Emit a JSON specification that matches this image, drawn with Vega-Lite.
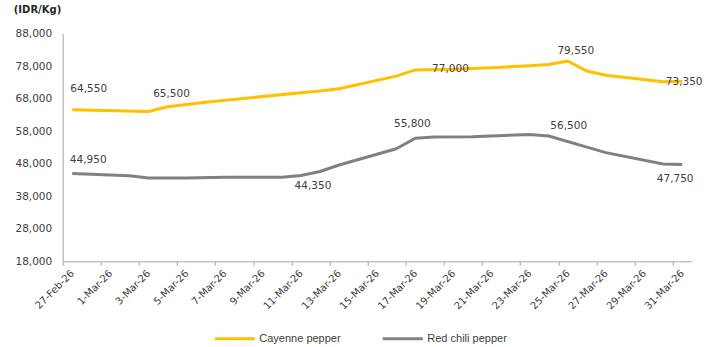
{
  "$schema": "https://vega.github.io/schema/vega-lite/v6.json",
  "width": 629,
  "height": 227.8,
  "autosize": {"type": "none"},
  "padding": {"left": 62.7, "top": 33.5, "right": 15.3, "bottom": 85.7},
  "background": "white",
  "config": {"view": {"stroke": null}, "font": "DejaVu Sans"},
  "datasets": {
    "prices": [
      {"date": "2026-02-27", "series": "Cayenne pepper", "price": 64550},
      {"date": "2026-03-03", "series": "Cayenne pepper", "price": 64050},
      {"date": "2026-03-04", "series": "Cayenne pepper", "price": 65500},
      {"date": "2026-03-06", "series": "Cayenne pepper", "price": 66900},
      {"date": "2026-03-11", "series": "Cayenne pepper", "price": 69800},
      {"date": "2026-03-12", "series": "Cayenne pepper", "price": 70300},
      {"date": "2026-03-13", "series": "Cayenne pepper", "price": 71000},
      {"date": "2026-03-16", "series": "Cayenne pepper", "price": 74900},
      {"date": "2026-03-17", "series": "Cayenne pepper", "price": 76800},
      {"date": "2026-03-19", "series": "Cayenne pepper", "price": 77000},
      {"date": "2026-03-21", "series": "Cayenne pepper", "price": 77500},
      {"date": "2026-03-23", "series": "Cayenne pepper", "price": 78100},
      {"date": "2026-03-24", "series": "Cayenne pepper", "price": 78500},
      {"date": "2026-03-25", "series": "Cayenne pepper", "price": 79550},
      {"date": "2026-03-26", "series": "Cayenne pepper", "price": 76450},
      {"date": "2026-03-27", "series": "Cayenne pepper", "price": 75150},
      {"date": "2026-03-30", "series": "Cayenne pepper", "price": 73200},
      {"date": "2026-03-31", "series": "Cayenne pepper", "price": 73350},
      {"date": "2026-02-27", "series": "Red chili pepper", "price": 44950},
      {"date": "2026-03-02", "series": "Red chili pepper", "price": 44300},
      {"date": "2026-03-03", "series": "Red chili pepper", "price": 43600},
      {"date": "2026-03-05", "series": "Red chili pepper", "price": 43600},
      {"date": "2026-03-07", "series": "Red chili pepper", "price": 43800},
      {"date": "2026-03-10", "series": "Red chili pepper", "price": 43800},
      {"date": "2026-03-11", "series": "Red chili pepper", "price": 44350},
      {"date": "2026-03-12", "series": "Red chili pepper", "price": 45600},
      {"date": "2026-03-13", "series": "Red chili pepper", "price": 47600},
      {"date": "2026-03-16", "series": "Red chili pepper", "price": 52600},
      {"date": "2026-03-17", "series": "Red chili pepper", "price": 55800},
      {"date": "2026-03-18", "series": "Red chili pepper", "price": 56200},
      {"date": "2026-03-20", "series": "Red chili pepper", "price": 56300},
      {"date": "2026-03-23", "series": "Red chili pepper", "price": 57000},
      {"date": "2026-03-24", "series": "Red chili pepper", "price": 56500},
      {"date": "2026-03-26", "series": "Red chili pepper", "price": 53100},
      {"date": "2026-03-27", "series": "Red chili pepper", "price": 51400},
      {"date": "2026-03-30", "series": "Red chili pepper", "price": 47900},
      {"date": "2026-03-31", "series": "Red chili pepper", "price": 47750}
    ],
    "labels": [
      {"date": "2026-02-27", "series": "Cayenne pepper", "price": 64550, "label": "64,550"},
      {"date": "2026-03-04", "series": "Cayenne pepper", "price": 65500, "label": "65,500"},
      {"date": "2026-03-19", "series": "Cayenne pepper", "price": 77000, "label": "77,000"},
      {"date": "2026-03-25", "series": "Cayenne pepper", "price": 79550, "label": "79,550"},
      {"date": "2026-03-31", "series": "Cayenne pepper", "price": 73350, "label": "73,350"},
      {"date": "2026-02-27", "series": "Red chili pepper", "price": 44950, "label": "44,950"},
      {"date": "2026-03-11", "series": "Red chili pepper", "price": 44350, "label": "44,350"},
      {"date": "2026-03-17", "series": "Red chili pepper", "price": 55800, "label": "55,800"},
      {"date": "2026-03-24", "series": "Red chili pepper", "price": 56500, "label": "56,500"},
      {"date": "2026-03-31", "series": "Red chili pepper", "price": 47750, "label": "47,750"}
    ]
  },
  "encoding": {
    "x": {
      "field": "date",
      "type": "temporal",
      "scale": {
        "type": "utc",
        "domain": [
          {"year": 2026, "month": 2, "date": 26, "hours": 12, "utc": true},
          {"year": 2026, "month": 3, "date": 31, "hours": 12, "utc": true}
        ]
      },
      "axis": {
        "title": null,
        "format": "%-d-%b-%y",
        "tickCount": {"interval": "day", "step": 2},
        "labelAngle": -45,
        "labelAlign": "right",
        "labelBaseline": "middle",
        "labelPadding": 6,
        "tickOffset": -9.53,
        "labelOffset": 9.53,
        "tickSize": 4,
        "tickColor": "#A6A6A6",
        "domainColor": "#A6A6A6",
        "grid": false,
        "labelFont": "DejaVu Sans",
        "labelFontSize": 10,
        "labelColor": "#404040",
        "labelFlush": false,
        "labelOverlap": false,
        "labelBound": false
      }
    },
    "y": {
      "field": "price",
      "type": "quantitative",
      "scale": {"domain": [18000, 88000], "nice": false, "zero": false},
      "axis": {
        "title": "(IDR/Kg)",
        "titleAngle": 0,
        "titleAlign": "left",
        "titleBaseline": "middle",
        "titleX": -49.4,
        "titleY": -24.2,
        "titleFont": "DejaVu Sans",
        "titleFontSize": 10,
        "titleFontWeight": "bold",
        "titleColor": "#262626",
        "values": [18000, 28000, 38000, 48000, 58000, 68000, 78000, 88000],
        "format": ",.0f",
        "ticks": false,
        "tickSize": 0,
        "grid": false,
        "domainColor": "#A6A6A6",
        "labelFont": "DejaVu Sans",
        "labelFontSize": 10.5,
        "labelColor": "#404040",
        "labelPadding": 11
      }
    }
  },
  "layer": [
    {
      "data": {"name": "prices"},
      "mark": {"type": "line", "strokeWidth": 3, "strokeJoin": "round"},
      "encoding": {
        "color": {
          "field": "series",
          "type": "nominal",
          "scale": {"domain": ["Cayenne pepper", "Red chili pepper"], "range": ["#FFC000", "#808080"]},
          "legend": {
            "orient": "none",
            "legendX": 150.6,
            "legendY": 283.5,
            "direction": "horizontal",
            "title": null,
            "symbolType": "stroke",
            "symbolSize": 1600,
            "symbolStrokeWidth": 3,
            "labelFont": "Liberation Sans",
            "labelFontSize": 11,
            "labelColor": "#404040",
            "labelOffset": 3,
            "columnPadding": 35,
            "padding": 0
          }
        }
      }
    },
    {"data": {"name": "labels"}, "transform": [{"filter": "datum.label === '64,550'"}], "mark": {"type": "text", "dx": 16.5, "dy": -21, "fontSize": 10.5, "color": "#404040", "font": "DejaVu Sans", "baseline": "middle", "align": "center"}, "encoding": {"text": {"field": "label"}}},
    {"data": {"name": "labels"}, "transform": [{"filter": "datum.label === '44,950'"}], "mark": {"type": "text", "dx": 16, "dy": -14, "fontSize": 10.5, "color": "#404040", "font": "DejaVu Sans", "baseline": "middle", "align": "center"}, "encoding": {"text": {"field": "label"}}},
    {"data": {"name": "labels"}, "transform": [{"filter": "datum.label === '65,500'"}], "mark": {"type": "text", "dx": 4, "dy": -13, "fontSize": 10.5, "color": "#404040", "font": "DejaVu Sans", "baseline": "middle", "align": "center"}, "encoding": {"text": {"field": "label"}}},
    {"data": {"name": "labels"}, "transform": [{"filter": "datum.label === '44,350'"}], "mark": {"type": "text", "dx": 12, "dy": 10, "fontSize": 10.5, "color": "#404040", "font": "DejaVu Sans", "baseline": "middle", "align": "center"}, "encoding": {"text": {"field": "label"}}},
    {"data": {"name": "labels"}, "transform": [{"filter": "datum.label === '55,800'"}], "mark": {"type": "text", "dx": -3, "dy": -14, "fontSize": 10.5, "color": "#404040", "font": "DejaVu Sans", "baseline": "middle", "align": "center"}, "encoding": {"text": {"field": "label"}}},
    {"data": {"name": "labels"}, "transform": [{"filter": "datum.label === '77,000'"}], "mark": {"type": "text", "dx": -3, "dy": 0, "fontSize": 10.5, "color": "#404040", "font": "DejaVu Sans", "baseline": "middle", "align": "center"}, "encoding": {"text": {"field": "label"}}},
    {"data": {"name": "labels"}, "transform": [{"filter": "datum.label === '79,550'"}], "mark": {"type": "text", "dx": 8, "dy": -9.5, "fontSize": 10.5, "color": "#404040", "font": "DejaVu Sans", "baseline": "middle", "align": "center"}, "encoding": {"text": {"field": "label"}}},
    {"data": {"name": "labels"}, "transform": [{"filter": "datum.label === '56,500'"}], "mark": {"type": "text", "dx": 20, "dy": -10, "fontSize": 10.5, "color": "#404040", "font": "DejaVu Sans", "baseline": "middle", "align": "center"}, "encoding": {"text": {"field": "label"}}},
    {"data": {"name": "labels"}, "transform": [{"filter": "datum.label === '73,350'"}], "mark": {"type": "text", "dx": 2, "dy": 1, "fontSize": 10.5, "color": "#404040", "font": "DejaVu Sans", "baseline": "middle", "align": "center"}, "encoding": {"text": {"field": "label"}}},
    {"data": {"name": "labels"}, "transform": [{"filter": "datum.label === '47,750'"}], "mark": {"type": "text", "dx": -7, "dy": 15, "fontSize": 10.5, "color": "#404040", "font": "DejaVu Sans", "baseline": "middle", "align": "center"}, "encoding": {"text": {"field": "label"}}}
  ]
}
